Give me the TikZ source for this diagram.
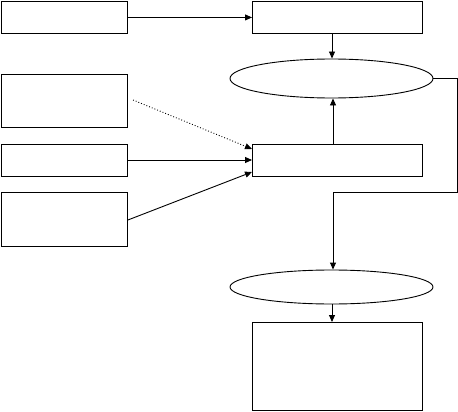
\documentclass[tikz,border=0pt]{standalone}
\usetikzlibrary{arrows.meta,shapes.geometric}
\begin{document}
\begin{tikzpicture}[x=1pt,y=-1pt,
  box/.style={draw,line width=0.9pt,rectangle,inner sep=0pt,anchor=north west},
  oval/.style={draw,line width=0.9pt,ellipse,inner sep=0pt},
  conn/.style={line width=0.9pt,-{Triangle[length=7pt,width=6pt]}}]
\useasboundingbox (0,0) rectangle (458,412);
\node[box,minimum width=126pt,minimum height=32pt] (a) at (1,1) {};
\node[box,minimum width=170pt,minimum height=32pt] (b) at (252,1) {};
\node[oval,minimum width=203pt,minimum height=39pt] (e1) at (331.5,78.5) {};
\node[box,minimum width=126pt,minimum height=53pt] (c) at (1,74) {};
\node[box,minimum width=126pt,minimum height=32pt] (d) at (1,144) {};
\node[box,minimum width=170pt,minimum height=32pt] (e) at (252,144) {};
\node[box,minimum width=126pt,minimum height=54pt] (f) at (1,192) {};
\node[oval,minimum width=203pt,minimum height=34pt] (e2) at (331.5,287) {};
\node[box,minimum width=170pt,minimum height=88pt] (g) at (252,322) {};
\coordinate (r1) at (457,78.5);
\coordinate (r2) at (457,192);
\coordinate (r3) at (333,192);
\coordinate (cs) at (133,100);
\draw[conn] (a.east) -- (b.west);
\draw[conn] (b.south -| 332,0) -- (e1.north -| 332,0);
\draw[conn] (e.north -| 333,0) -- (e1.south -| 333,0);
\draw[line width=0.9pt] (e1.east) -- (r1) -- (r2) -- (r3);
\draw[conn] (r3) -- (e2.north -| 333,0);
\draw[conn] (e2.south -| 332,0) -- (g.north -| 332,0);
\draw[conn,dotted] (cs) -- (e.north west |- 0,149);
\draw[conn] (d.east |- 0,160) -- (e.west |- 0,160);
\draw[conn] (f.east |- 0,220) -- (e.west |- 0,172);
\end{tikzpicture}
\end{document}
